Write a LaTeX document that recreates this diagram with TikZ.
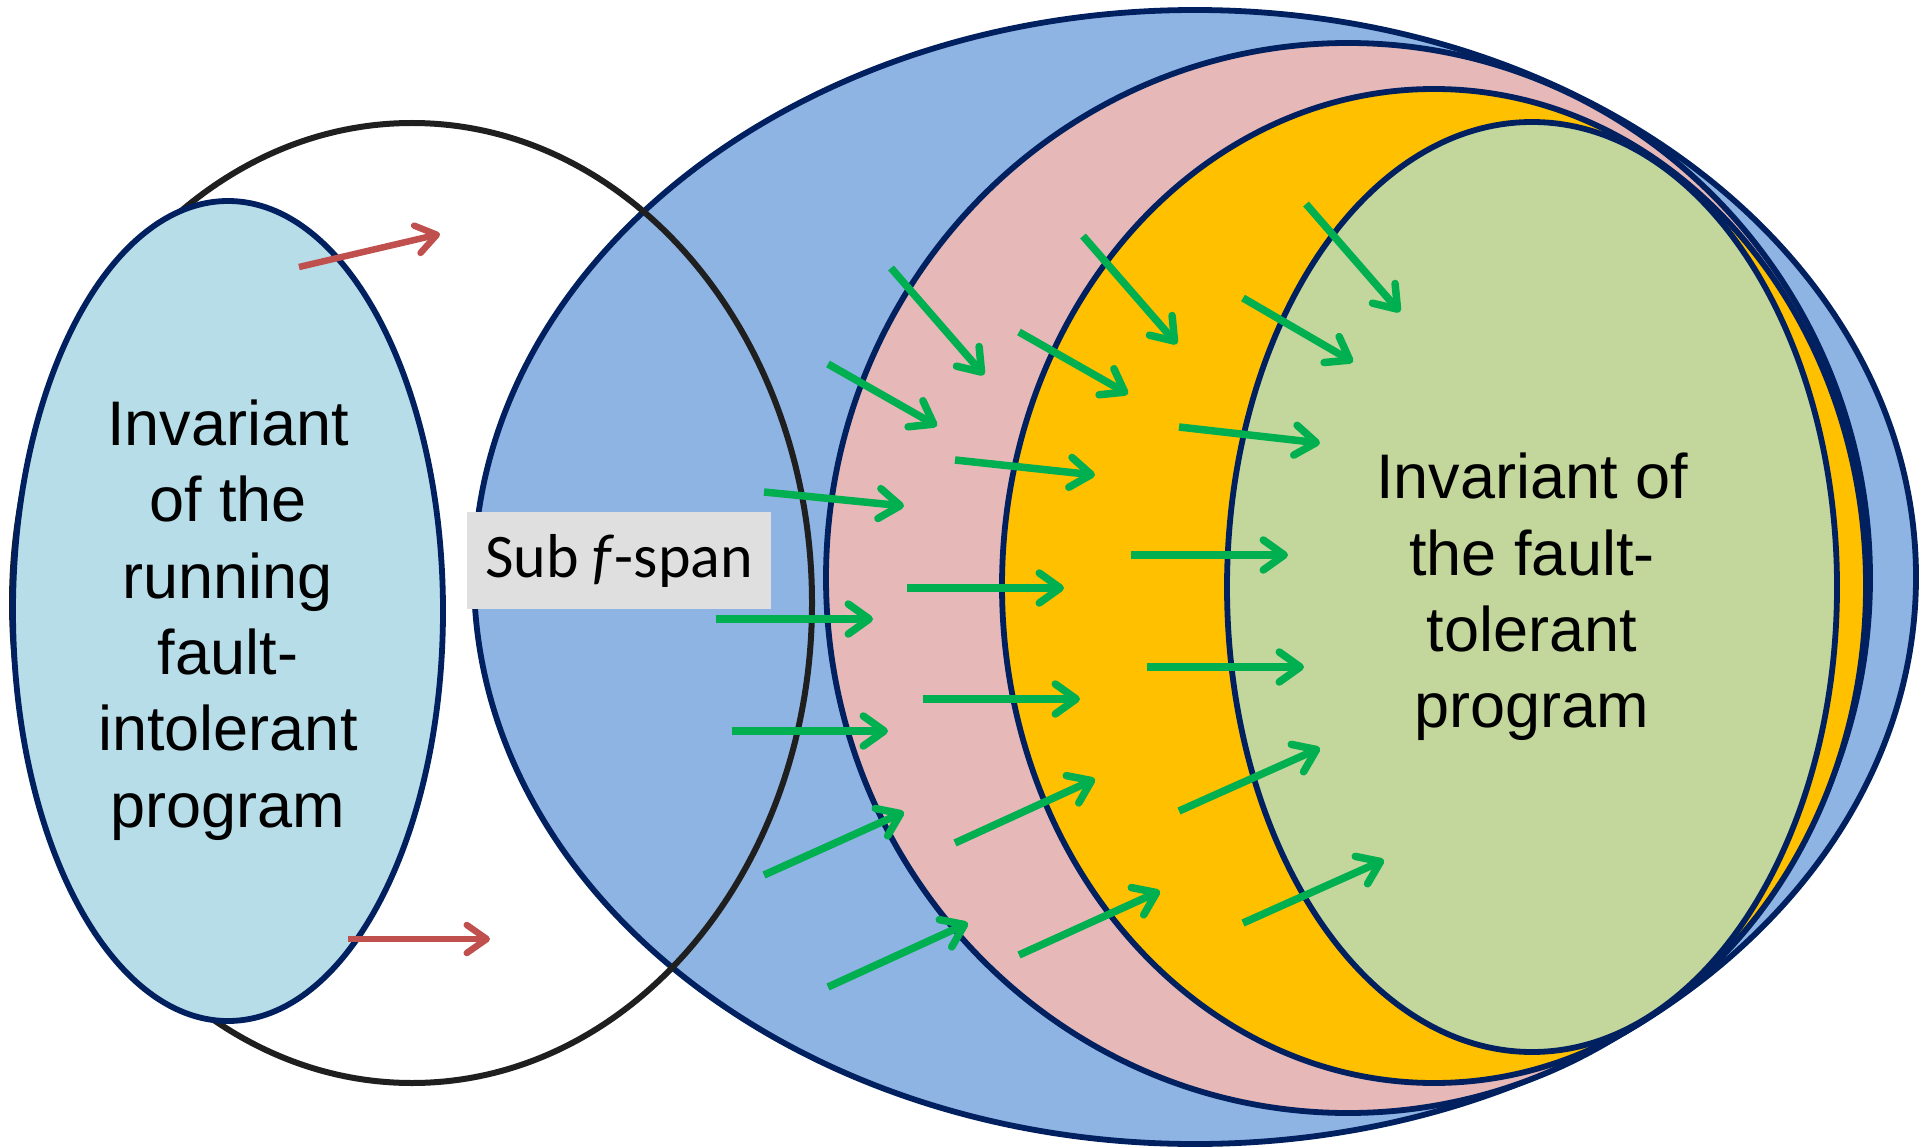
\documentclass[tikz,border=0pt]{standalone}
\usepackage{fontspec}
\setmainfont{Liberation Sans}
\newfontfamily\spanfont{Carlito}
\usetikzlibrary{arrows.meta}
\definecolor{navy}{HTML}{002060}
\definecolor{lightblue}{HTML}{B7DDE8}
\definecolor{midblue}{HTML}{8EB4E3}
\definecolor{rose}{HTML}{E6B9B8}
\definecolor{amber}{HTML}{FFC000}
\definecolor{sage}{HTML}{C3D69B}
\definecolor{flow}{HTML}{00B050}
\definecolor{leak}{HTML}{C0504D}
\definecolor{boxgray}{HTML}{DFDFDF}
\begin{document}
\begin{tikzpicture}[x=1pt,y=-1pt,
  region/.style={draw=navy, line width=5.8pt},
  outline/.style={draw=black!88, line width=6pt},
  flowarrow/.style={draw=flow, line width=7.5pt,
    -{Straight Barb[length=21pt,width=30pt,round]}},
  leakarrow/.style={draw=leak, line width=6.5pt,
    -{Straight Barb[length=20pt,width=28pt,round]}},
  bigtext/.style={font=\fontsize{63}{76.4}\selectfont, align=center, inner sep=0pt},
]
\useasboundingbox (0,0) rectangle (1929,1147);
\fill[white] (0,0) rectangle (1929,1147);

% nested regions, outermost first
\filldraw[region, fill=midblue] (1195,577) ellipse [x radius=721pt, y radius=567pt];
\filldraw[region, fill=rose]    (1348,578) ellipse [x radius=522pt, y radius=535pt];
\filldraw[region, fill=amber]   (1434,586) ellipse [x radius=432pt, y radius=497pt];
\filldraw[region, fill=sage]    (1532,587) ellipse [x radius=305pt, y radius=465pt];

% span of the fault-intolerant program (outline only)
\draw[outline] (412,603) ellipse [x radius=400pt, y radius=480pt];

% invariant of the fault-intolerant program
\filldraw[region, fill=lightblue] (228,611) ellipse [x radius=215pt, y radius=410pt];

\node[bigtext] (intol) at (228,620)
  {Invariant\\of the\\running\\fault-\\intolerant\\program};
\node[bigtext] (tol) at (1532,597)
  {Invariant of\\the fault-\\tolerant\\program};

\node[fill=boxgray, minimum width=304pt, minimum height=97pt, inner sep=0pt,
      font=\spanfont\fontsize{62}{70}\selectfont] (subspan) at (619,560.5)
  {Sub \textit{f}-span};

% transitions leaving the invariant
\draw[leakarrow] (299,267) -- (440,234);
\draw[leakarrow] (348,939) -- (490,939);

% recovery transitions
\foreach \sx/\sy/\ex/\ey in {
  891/268/984/375, 828/364/937/426, 764/492/904/506, 716/619/873/619,
  732/731/888/731, 764/875/904/812, 828/987/968/923,
  955/460/1095/475, 907/588/1064/588, 923/699/1080/699, 955/843/1095/779,
  1019/955/1160/891, 1019/332/1128/394, 1083/236/1177/344,
  1179/427/1320/443, 1131/555/1288/555, 1147/667/1304/667,
  1179/811/1320/748, 1243/923/1384/860, 1243/298/1353/362, 1306/204/1400/312}
  \draw[flowarrow] (\sx,\sy) -- (\ex,\ey);
\end{tikzpicture}
\end{document}
